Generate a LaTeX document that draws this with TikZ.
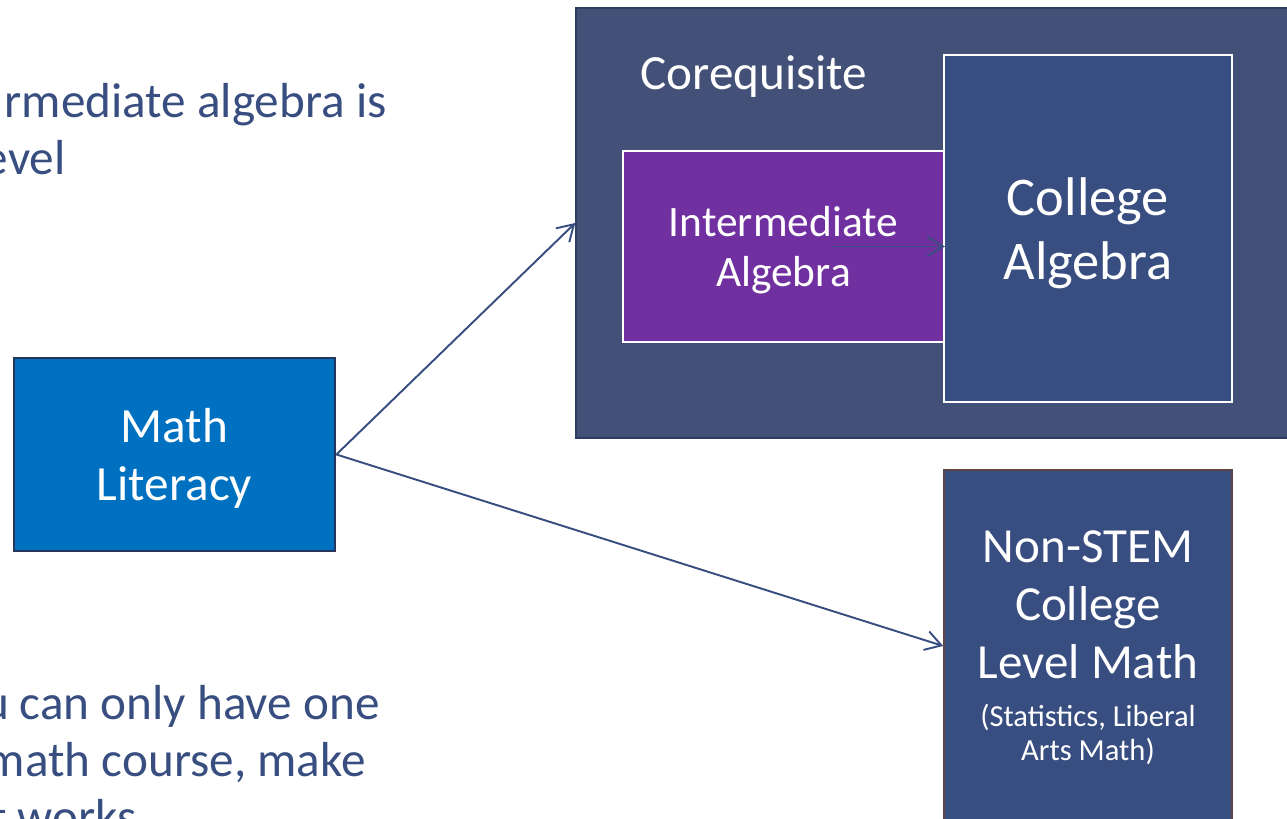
\documentclass[tikz,border=0pt]{standalone}
\usepackage{fontspec}
\setmainfont{Carlito}
\usetikzlibrary{arrows.meta}

\definecolor{inkblue}{RGB}{56,78,128}
\definecolor{slate}{RGB}{67,80,119}
\definecolor{slateline}{RGB}{48,60,96}
\definecolor{navy}{RGB}{56,77,128}
\definecolor{grape}{RGB}{112,48,160}
\definecolor{azure}{RGB}{0,112,192}
\definecolor{azureline}{RGB}{36,54,92}
\definecolor{rust}{RGB}{96,68,68}

\tikzset{
  course/.style={rectangle,draw=white,line width=1.1pt,fill=navy,text=white,align=center,inner sep=0pt,text depth=0pt},
  link/.style={draw=inkblue,line width=1.1pt,-{Straight Barb[length=9pt,width=11pt]}},
  bullet/.style={text=inkblue,inner sep=0pt,anchor=base east,font=\fontsize{28}{32}\selectfont},
}

\begin{document}
\begin{tikzpicture}
\useasboundingbox (0,0) rectangle (25.74,-16.38);
\clip (0,0) rectangle (25.74,-16.38);

% text on the left
\node[bullet] (noteA) at (7.74,-2.36) {rmediate algebra is};
\node[bullet] (noteB) at (1.32,-3.5) {evel};
\node[bullet] (noteC) at (7.6,-14.4) {u can only have one};
\node[bullet] (noteD) at (7.32,-15.54) {math course, make};
\node[bullet] (noteE) at (2.74,-16.68) {t works};

% corequisite block
\node[course,fill=slate,draw=slateline,line width=0.9pt,minimum width=14.48cm,minimum height=8.6cm] (coreq) at (18.76,-4.46) {};
\node[text=white,anchor=base west,inner sep=0pt,font=\fontsize{28}{32}\selectfont] (coreqlabel) at (12.8,-1.8) {Corequisite};
\node[course,fill=grape,minimum width=6.42cm,minimum height=3.82cm,font=\fontsize{24.7}{28.4}\selectfont] (intalg) at (15.67,-4.93) {Intermediate\\Algebra};
\node[course,minimum width=5.76cm,minimum height=6.94cm,font=\fontsize{31}{36.3}\selectfont] (colalg) at (21.76,-4.57) {College\\Algebra};
\coordinate (intalgmid) at (16.66,-4.93);
\draw[link] (intalgmid) -- (intalg.east);

% math literacy
\node[course,fill=azure,draw=azureline,line width=1.6pt,minimum width=6.42cm,minimum height=3.86cm,font=\fontsize{28}{33}\selectfont] (mathlit) at (3.49,-9.09) {Math\\Literacy};

% non-STEM
\node[course,draw=rust,line width=0.9pt,minimum width=5.76cm,minimum height=7.04cm,font=\fontsize{27.9}{33}\selectfont] (nonstem) at (21.76,-12.92)
  {Non-STEM\\College\\Level Math\\[-5.7pt]{\fontsize{17.4}{19}\selectfont (Statistics, Liberal}\\[-13.7pt]{\fontsize{17.4}{19}\selectfont Arts Math)}};

\draw[link] (mathlit.east) -- (coreq.west);
\draw[link] (mathlit.east) -- (nonstem.west);
\end{tikzpicture}
\end{document}
